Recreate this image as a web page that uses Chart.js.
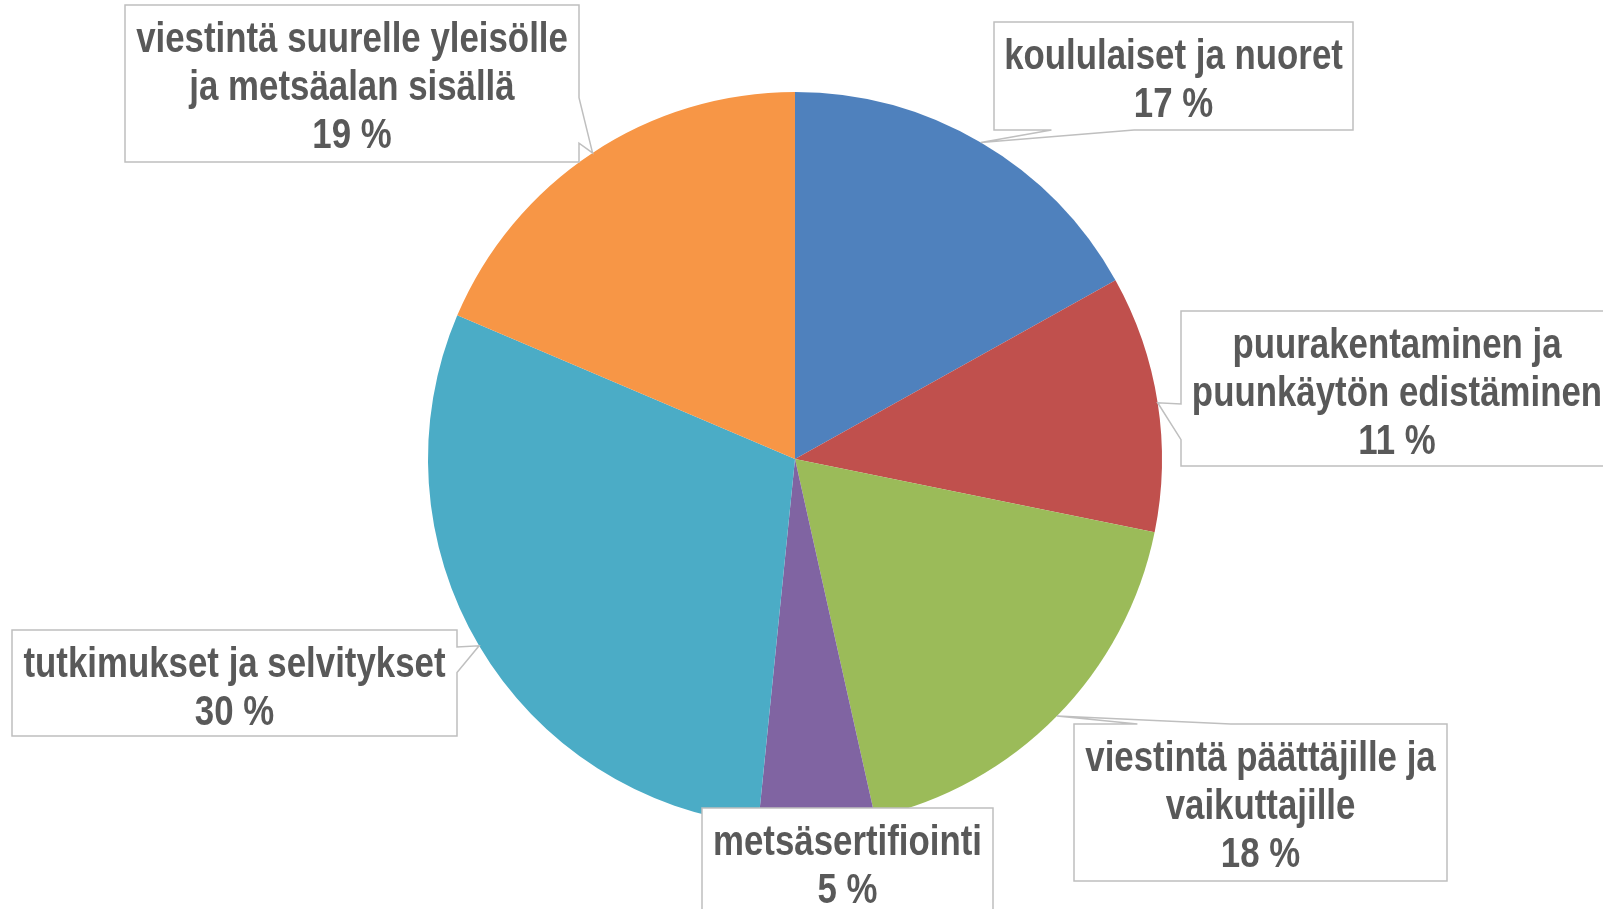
<!DOCTYPE html>
<html>
<head>
<meta charset="utf-8">
<script src="https://cdn.jsdelivr.net/npm/chart.js@4"></script>
<style>
  html, body { margin: 0; padding: 0; background: #fff; overflow: hidden; }
</style>
</head>
<body>
<canvas id="chart" width="1603" height="909"></canvas>
<script>
// slices, clockwise from 12 o'clock
const categories = [
  "koululaiset ja nuoret",
  "puurakentaminen ja puunkäytön edistäminen",
  "viestintä päättäjille ja vaikuttajille",
  "metsäsertifiointi",
  "tutkimukset ja selvitykset",
  "viestintä suurelle yleisölle ja metsäalan sisällä"
];
const shares = [16.9, 11.3, 18.3, 5.1, 29.8, 18.6];
const colors = ["#4F81BD", "#C0504D", "#9BBB59", "#8064A2", "#4BACC6", "#F79646"];

// how the label text wraps in the picture
const labelLines = [
  ["koululaiset ja nuoret"],
  ["puurakentaminen ja", "puunkäytön edistäminen"],
  ["viestintä päättäjille ja", "vaikuttajille"],
  ["metsäsertifiointi"],
  ["tutkimukset ja selvitykset"],
  ["viestintä suurelle yleisölle", "ja metsäalan sisällä"]
];

// callout boxes (layout only): rect, side the pointer leaves from, and where on that side
const boxes = [
  { x: 994,  y: 22,  w: 359, h: 108, side: "bottom", at: [0.16, 0.39] },
  { x: 1181, y: 311, w: 432, h: 155, side: "left",   at: [0.60, 0.83] },
  { x: 1074, y: 724, w: 373, h: 157, side: "top",    at: [0.17, 0.42] },
  { x: 702,  y: 808, w: 291, h: 130, side: null,     at: null },
  { x: 12,   y: 630, w: 445, h: 106, side: "right",  at: [0.16, 0.40] },
  { x: 125,  y: 5,   w: 454, h: 157, side: "right",  at: [0.59, 0.88] }
];

// no narrow font installed, so squeeze a normal bold one sideways
const squeeze = 0.81;

// draws the excel-style callouts with a pointer to each slice
const calloutPlugin = {
  id: "callouts",
  afterDatasetsDraw(chart) {
    const ctx = chart.ctx;
    const arcs = chart.getDatasetMeta(0).data;
    const total = shares.reduce((a, b) => a + b, 0);

    arcs.forEach((arc, i) => {
      const b = boxes[i];
      const p = arc.getProps(["x", "y", "startAngle", "endAngle", "outerRadius"], true);
      const mid = (p.startAngle + p.endAngle) / 2;
      const tx = p.x + Math.cos(mid) * p.outerRadius;
      const ty = p.y + Math.sin(mid) * p.outerRadius;

      const L = b.x, T = b.y, R = b.x + b.w, B = b.y + b.h;
      ctx.save();
      ctx.beginPath();
      ctx.moveTo(L, T);
      if (b.side === "top") {
        ctx.lineTo(L + b.w * b.at[0], T);
        ctx.lineTo(tx, ty);
        ctx.lineTo(L + b.w * b.at[1], T);
      }
      ctx.lineTo(R, T);
      if (b.side === "right") {
        ctx.lineTo(R, T + b.h * b.at[0]);
        ctx.lineTo(tx, ty);
        ctx.lineTo(R, T + b.h * b.at[1]);
      }
      ctx.lineTo(R, B);
      if (b.side === "bottom") {
        ctx.lineTo(L + b.w * b.at[1], B);
        ctx.lineTo(tx, ty);
        ctx.lineTo(L + b.w * b.at[0], B);
      }
      ctx.lineTo(L, B);
      if (b.side === "left") {
        ctx.lineTo(L, T + b.h * b.at[1]);
        ctx.lineTo(tx, ty);
        ctx.lineTo(L, T + b.h * b.at[0]);
      }
      ctx.closePath();
      ctx.fillStyle = "#ffffff";
      ctx.fill();
      ctx.strokeStyle = "#BFBFBF";
      ctx.lineWidth = 1.5;
      ctx.stroke();

      // text
      const lines = labelLines[i].concat([Math.round(shares[i] / total * 100) + " %"]);
      ctx.fillStyle = "#595959";
      ctx.font = 'bold 43px "Liberation Sans", Arial, sans-serif';
      ctx.textAlign = "center";
      ctx.textBaseline = "middle";
      const cx = L + b.w / 2;
      ctx.translate(cx, T);
      ctx.scale(squeeze, 1);
      lines.forEach((s, k) => {
        ctx.fillText(s, 0, 35 + k * 48);
      });
      ctx.restore();
    });
  }
};

new Chart(document.getElementById("chart"), {
  type: "pie",
  data: {
    labels: categories,
    datasets: [{
      data: shares,
      backgroundColor: colors,
      borderWidth: 0
    }]
  },
  options: {
    responsive: false,
    animation: false,
    devicePixelRatio: 1,
    layout: { padding: { top: 92, bottom: 83, left: 428, right: 441 } },
    plugins: {
      legend: { display: false },
      tooltip: { enabled: false }
    }
  },
  plugins: [calloutPlugin]
});
</script>
</body>
</html>
